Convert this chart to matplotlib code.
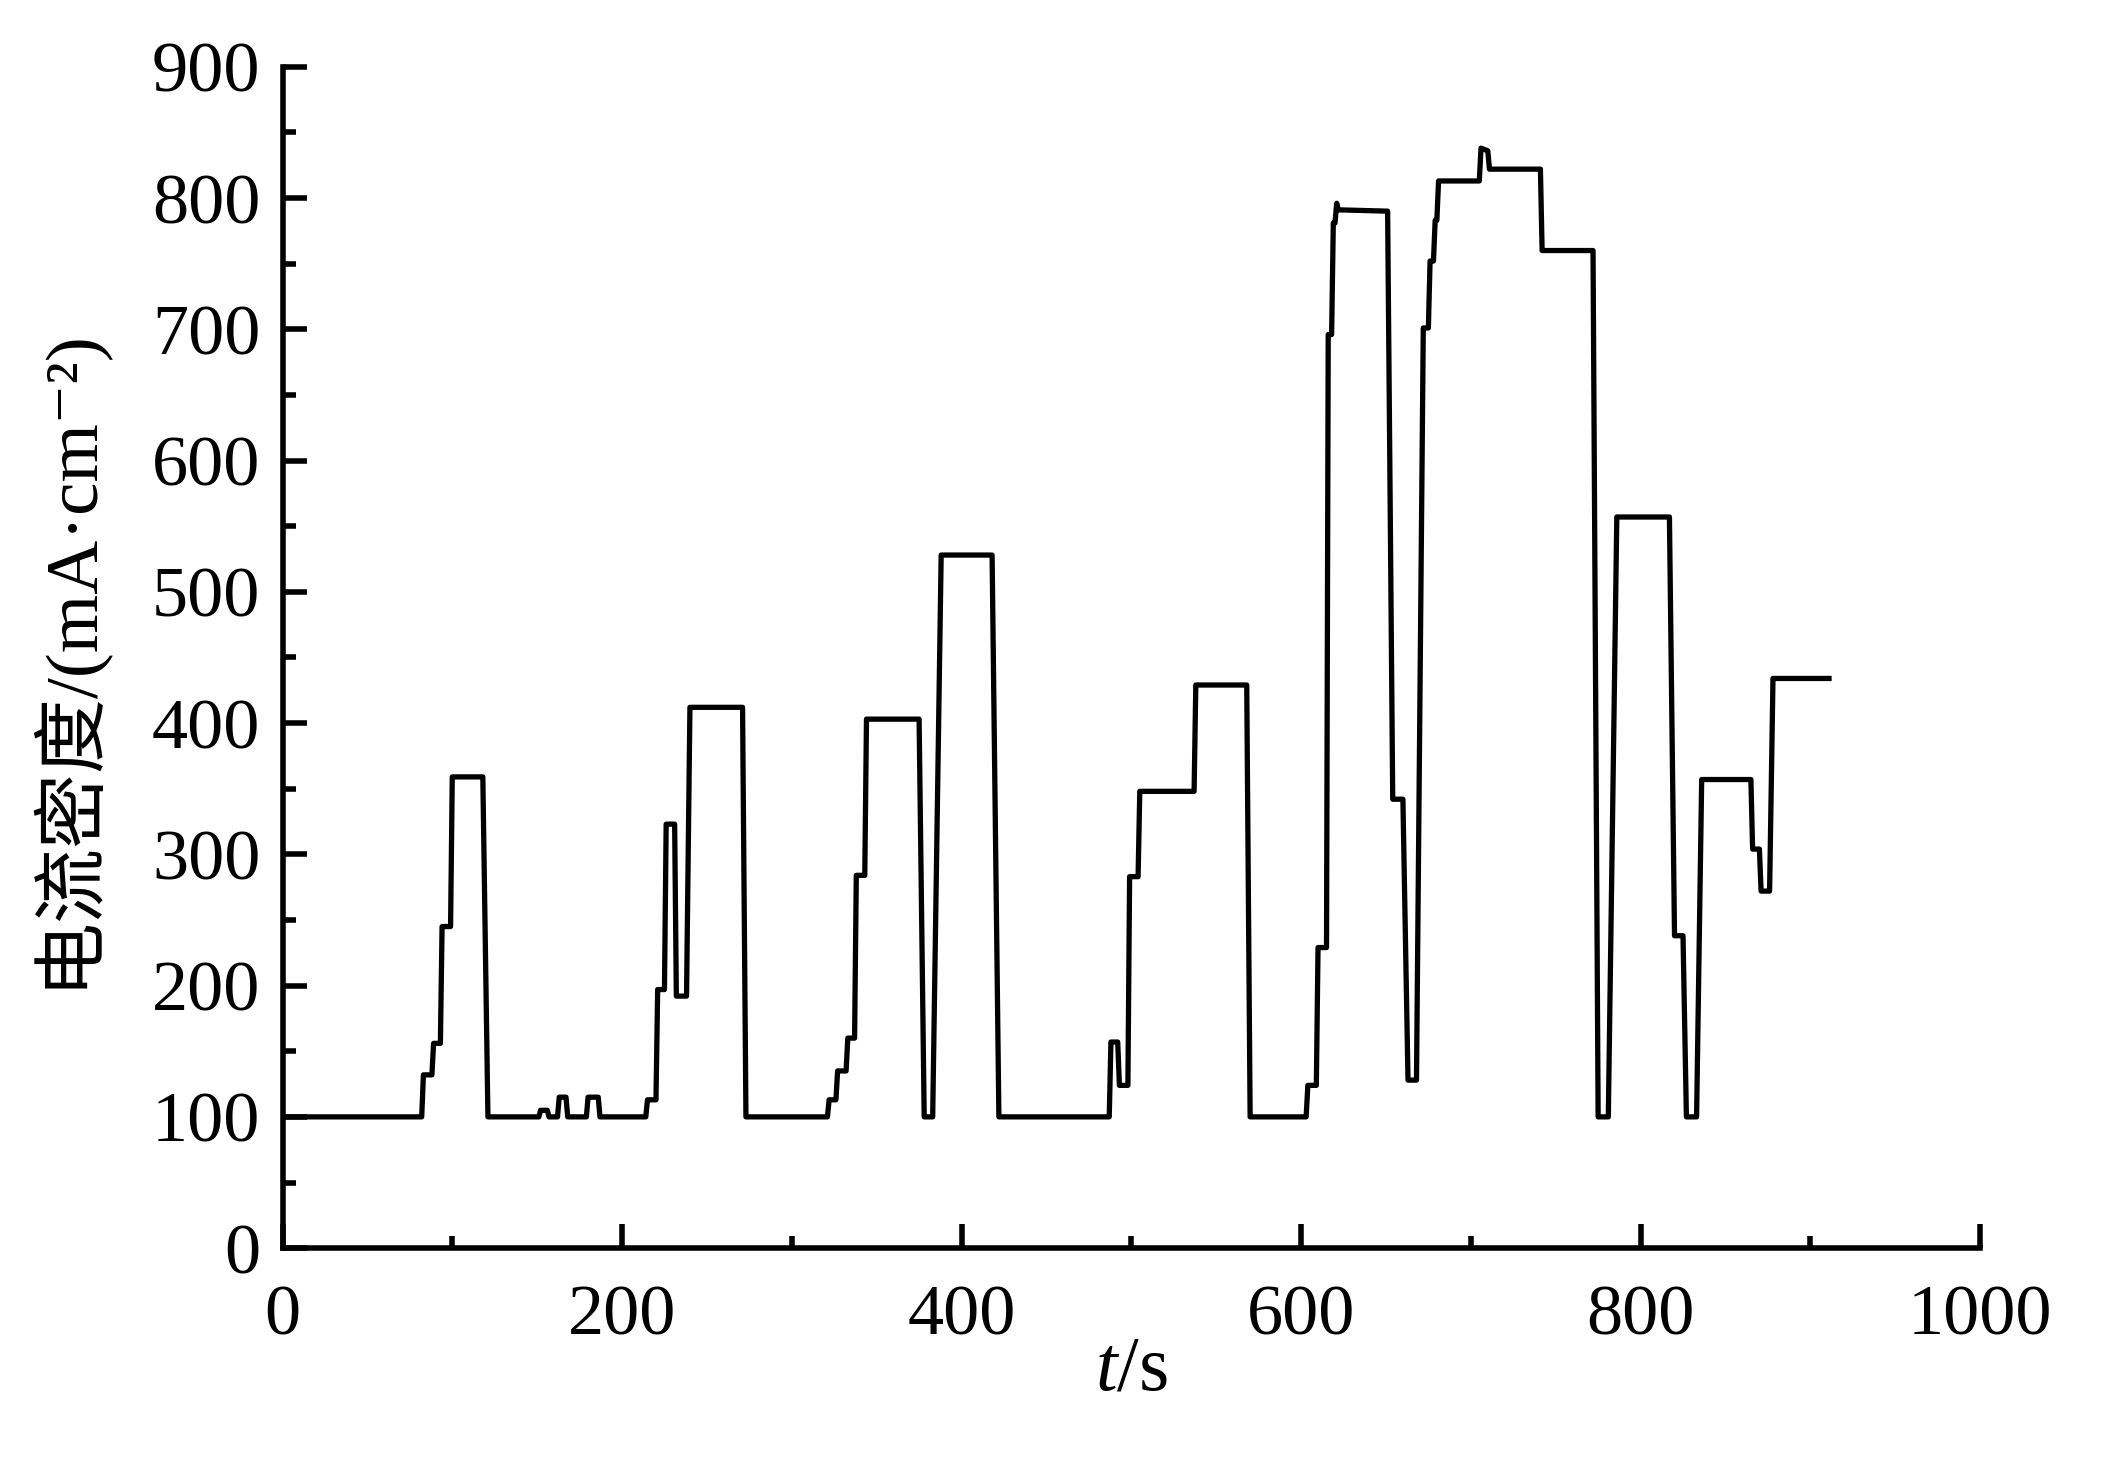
import matplotlib
matplotlib.use("Agg")
import matplotlib.pyplot as plt
from matplotlib.ticker import MultipleLocator

# 时间 / s 与 电流密度 / (mA·cm^-2)，按图读出的台阶顶点
t = [0, 82, 83, 88, 89, 93, 94, 99, 100, 118, 121,
     151, 152, 156, 157, 162, 163, 167, 168, 179, 180, 186, 187,
     214, 215, 220, 221, 225, 226, 231, 232, 238, 240, 271, 273,
     321, 322, 326, 327, 332, 333, 337, 338, 343, 344, 375, 378, 383, 388, 418, 422,
     487, 488, 492, 493, 498, 499, 504, 505, 537, 538, 568, 570,
     603, 604, 609, 610, 615, 616, 618, 619, 620, 621, 622, 651, 654, 660, 663, 668,
     672, 675, 676, 678, 679, 680, 681, 705, 706, 710, 711, 741, 742, 772, 775,
     781, 786, 817, 820, 825, 827, 833, 836, 865, 866, 870, 871, 876, 878, 911]
j = [100, 100, 132, 132, 156, 156, 245, 245, 359, 359, 100,
     100, 105, 105, 100, 100, 115, 115, 100, 100, 115, 115, 100,
     100, 113, 113, 197, 197, 323, 323, 192, 192, 412, 412, 100,
     100, 113, 113, 135, 135, 160, 160, 284, 284, 403, 403, 100, 100, 528, 528, 100,
     100, 157, 157, 124, 124, 283, 283, 348, 348, 429, 429, 100,
     100, 124, 124, 229, 229, 696, 696, 781, 781, 796, 791, 790, 342, 342, 128, 128,
     701, 701, 752, 752, 783, 783, 813, 813, 838, 836, 822, 822, 760, 760, 100,
     100, 557, 557, 238, 238, 100, 100, 357, 357, 304, 304, 272, 272, 434, 434]

plt.rcParams['font.family'] = ['Liberation Serif', 'Noto Sans CJK SC', 'DejaVu Serif']
plt.rcParams['mathtext.fontset'] = 'custom'
plt.rcParams['mathtext.rm'] = 'Liberation Serif'
plt.rcParams['mathtext.it'] = 'Liberation Serif:italic'

fig = plt.figure(figsize=(21.02, 14.61), dpi=100)
ax = fig.add_axes([0.1344, 0.1457, 0.8076, 0.8086])

ax.plot(t, j, color='black', lw=3.8)

ax.set_xlim(0, 1000)
ax.set_ylim(0, 900)
ax.xaxis.set_major_locator(MultipleLocator(200))
ax.xaxis.set_minor_locator(MultipleLocator(100))
ax.yaxis.set_major_locator(MultipleLocator(100))
ax.yaxis.set_minor_locator(MultipleLocator(50))

for s in ['top', 'right']:
    ax.spines[s].set_visible(False)
for s in ['left', 'bottom']:
    ax.spines[s].set_linewidth(4)

ax.tick_params(which='both', direction='in', width=4, labelsize=52)
ax.tick_params(which='major', length=17)
ax.tick_params(which='minor', length=9)
ax.tick_params(axis='x', which='major', pad=26)
ax.tick_params(axis='y', which='major', pad=16)

ax.set_xlabel('$t$/s', fontsize=56, labelpad=-10)
ax.set_ylabel('电流密度/(mA·cm⁻²)', fontsize=54, labelpad=34)

fig.savefig('out.png', dpi=100, facecolor='white')
